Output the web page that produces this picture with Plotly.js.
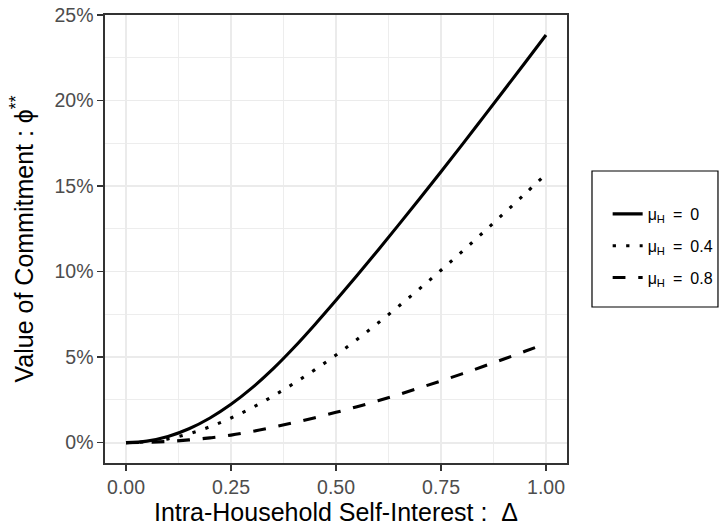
<!DOCTYPE html>
<html>
<head>
<meta charset="utf-8">
<script src="https://cdn.plot.ly/plotly-3.0.1.min.js"></script>
<style>html,body{margin:0;padding:0;background:#ffffff;}</style>
</head>
<body>
<div id="chart" style="width:720px;height:530px;"></div>
<script>
// Intra-household self-interest (Delta)
const delta = [0, 0.05, 0.10, 0.15, 0.20, 0.25, 0.30, 0.35, 0.40, 0.45, 0.50,
               0.55, 0.60, 0.65, 0.70, 0.75, 0.80, 0.85, 0.90, 0.95, 1.00];
// Value of commitment phi** (percent)
const phiMuH0  = [0, 0.09, 0.36, 0.81, 1.44, 2.24, 3.20, 4.31, 5.56, 6.91, 8.32,
                  9.77, 11.25, 12.76, 14.29, 15.84, 17.41, 19.00, 20.60, 22.21, 23.83];
const phiMuH04 = [0, 0.05, 0.22, 0.52, 0.93, 1.44, 2.04, 2.72, 3.47, 4.27, 5.12,
                  6.03, 6.99, 7.99, 9.02, 10.08, 11.17, 12.28, 13.41, 14.55, 15.70];
const phiMuH08 = [0, 0.02, 0.07, 0.16, 0.28, 0.44, 0.65, 0.90, 1.17, 1.46, 1.77,
                  2.10, 2.45, 2.82, 3.21, 3.61, 4.02, 4.45, 4.89, 5.34, 5.79];
const seriesNames = ['\u03bc<sub>H</sub>\u2002=\u20020', '\u03bc<sub>H</sub>\u2002=\u20020.4', '\u03bc<sub>H</sub>\u2002=\u20020.8'];
const xTickVals = [0, 0.25, 0.5, 0.75, 1];
const xTickText = ['0.00', '0.25', '0.50', '0.75', '1.00'];
const yTickVals = [0, 5, 10, 15, 20, 25];
const yTickText = ['0%', '5%', '10%', '15%', '20%', '25%'];

const FONT = 'Liberation Sans, Arial, Helvetica, sans-serif';
const seriesY = [phiMuH0, phiMuH04, phiMuH08];
const dashes = ['solid', '3.3px,10.2px', '12.8px,12.8px'];

const traces = seriesY.map((ys, i) => ({
  type: 'scatter',
  mode: 'lines',
  x: delta,
  y: ys,
  name: seriesNames[i],
  legendgroup: 'g' + i,
  line: {color: '#000000', width: 3.1, dash: dashes[i], shape: 'spline', smoothing: 1},
  hoverinfo: 'skip'
}));

const axisCommon = {
  showline: true,
  mirror: true,
  linecolor: '#333333',
  linewidth: 1.6,
  ticks: 'outside',
  ticklen: 6,
  tickwidth: 1.6,
  tickcolor: '#333333',
  showgrid: true,
  gridcolor: '#ebebeb',
  gridwidth: 1.8,
  zeroline: false,
  automargin: false,
  tickfont: {family: FONT, size: 19.5, color: '#4d4d4d'}
};

const layout = {
  width: 720,
  height: 530,
  paper_bgcolor: '#ffffff',
  plot_bgcolor: '#ffffff',
  margin: {l: 105, r: 153, t: 15, b: 67, pad: 0, autoexpand: false},
  showlegend: true,
  xaxis: Object.assign({}, axisCommon, {
    range: [-0.05, 1.05],
    tickmode: 'array',
    tickvals: xTickVals,
    ticktext: xTickText,
    minor: {dtick: 0.125, tick0: 0, showgrid: true, gridcolor: '#ebebeb', gridwidth: 0.9, ticks: ''},
    title: {text: 'Intra-Household Self-Interest :  \u0394', font: {family: FONT, size: 25, color: '#000000'}, standoff: 5}
  }),
  yaxis: Object.assign({}, axisCommon, {
    range: [-1.19, 25.0],
    tickmode: 'array',
    tickvals: yTickVals,
    ticktext: yTickText,
    minor: {dtick: 2.5, tick0: 0, showgrid: true, gridcolor: '#ebebeb', gridwidth: 0.9, ticks: ''},
    title: {text: 'Value of Commitment : \u03d5<sup>**</sup>', font: {family: FONT, size: 25, color: '#000000'}, standoff: 14}
  }),
  legend: {
    x: 1.088,
    xanchor: 'left',
    y: 0.5938,
    yanchor: 'top',
    bgcolor: 'rgba(0,0,0,0)',
    borderwidth: 0,
    itemwidth: 30,
    tracegroupgap: 8,
    font: {family: FONT, size: 16, color: '#000000'}
  },
  shapes: [{
    type: 'rect',
    xref: 'paper', yref: 'paper',
    x0: 1.0541, x1: 1.3268, y0: 0.3482, y1: 0.6518,
    line: {color: '#000000', width: 1.2},
    fillcolor: 'rgba(0,0,0,0)',
    layer: 'above'
  }]
};

Plotly.newPlot('chart', traces, layout, {displayModeBar: false, staticPlot: true});
</script>
</body>
</html>
